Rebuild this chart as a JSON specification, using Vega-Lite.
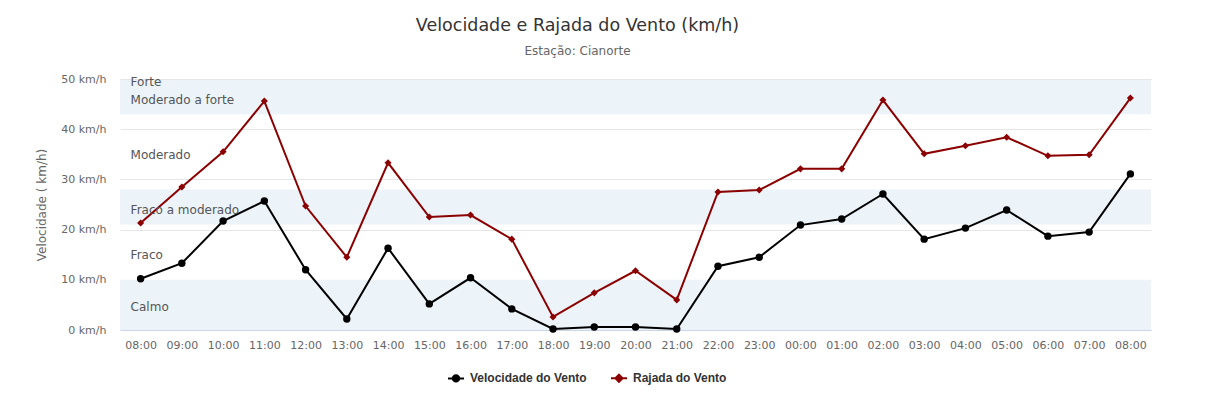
{
  "$schema": "https://vega.github.io/schema/vega-lite/v6.json",
  "width": 1031,
  "height": 251,
  "autosize": {"type": "none"},
  "padding": {"left": 120, "top": 79, "right": 67, "bottom": 66},
  "background": "#ffffff",
  "config": {
    "view": {"stroke": null},
    "font": "DejaVu Sans"
  },
  "title": {
    "text": "Velocidade e Rajada do Vento (km/h)",
    "subtitle": "Estação: Cianorte",
    "anchor": "middle",
    "dx": -58,
    "fontSize": 17.5,
    "fontWeight": "normal",
    "color": "#333333",
    "subtitleFontSize": 12,
    "subtitleColor": "#666666",
    "subtitlePadding": 12,
    "offset": 16
  },
  "datasets": {
    "bandas": [
      {"ini": 0, "fim": 10},
      {"ini": 21, "fim": 28},
      {"ini": 43, "fim": 49.8}
    ],
    "rotulos": [
      {"rotulo": "Forte", "v": 49.4},
      {"rotulo": "Moderado a forte", "v": 45.9},
      {"rotulo": "Moderado", "v": 34.9},
      {"rotulo": "Fraco a moderado", "v": 23.9},
      {"rotulo": "Fraco", "v": 14.9},
      {"rotulo": "Calmo", "v": 4.6}
    ],
    "vento": [
      {"hora": "08:00", "serie": "Velocidade do Vento", "valor": 10.2},
      {"hora": "09:00", "serie": "Velocidade do Vento", "valor": 13.3},
      {"hora": "10:00", "serie": "Velocidade do Vento", "valor": 21.7},
      {"hora": "11:00", "serie": "Velocidade do Vento", "valor": 25.7},
      {"hora": "12:00", "serie": "Velocidade do Vento", "valor": 12.0},
      {"hora": "13:00", "serie": "Velocidade do Vento", "valor": 2.2},
      {"hora": "14:00", "serie": "Velocidade do Vento", "valor": 16.3},
      {"hora": "15:00", "serie": "Velocidade do Vento", "valor": 5.2},
      {"hora": "16:00", "serie": "Velocidade do Vento", "valor": 10.4},
      {"hora": "17:00", "serie": "Velocidade do Vento", "valor": 4.2},
      {"hora": "18:00", "serie": "Velocidade do Vento", "valor": 0.2},
      {"hora": "19:00", "serie": "Velocidade do Vento", "valor": 0.6},
      {"hora": "20:00", "serie": "Velocidade do Vento", "valor": 0.6},
      {"hora": "21:00", "serie": "Velocidade do Vento", "valor": 0.2},
      {"hora": "22:00", "serie": "Velocidade do Vento", "valor": 12.7},
      {"hora": "23:00", "serie": "Velocidade do Vento", "valor": 14.5},
      {"hora": "00:00", "serie": "Velocidade do Vento", "valor": 20.9},
      {"hora": "01:00", "serie": "Velocidade do Vento", "valor": 22.1},
      {"hora": "02:00", "serie": "Velocidade do Vento", "valor": 27.1},
      {"hora": "03:00", "serie": "Velocidade do Vento", "valor": 18.1},
      {"hora": "04:00", "serie": "Velocidade do Vento", "valor": 20.3},
      {"hora": "05:00", "serie": "Velocidade do Vento", "valor": 23.9},
      {"hora": "06:00", "serie": "Velocidade do Vento", "valor": 18.7},
      {"hora": "07:00", "serie": "Velocidade do Vento", "valor": 19.5},
      {"hora": "08:00 (+1)", "serie": "Velocidade do Vento", "valor": 31.1},
      {"hora": "08:00", "serie": "Rajada do Vento", "valor": 21.3},
      {"hora": "09:00", "serie": "Rajada do Vento", "valor": 28.5},
      {"hora": "10:00", "serie": "Rajada do Vento", "valor": 35.5},
      {"hora": "11:00", "serie": "Rajada do Vento", "valor": 45.6},
      {"hora": "12:00", "serie": "Rajada do Vento", "valor": 24.7},
      {"hora": "13:00", "serie": "Rajada do Vento", "valor": 14.5},
      {"hora": "14:00", "serie": "Rajada do Vento", "valor": 33.3},
      {"hora": "15:00", "serie": "Rajada do Vento", "valor": 22.5},
      {"hora": "16:00", "serie": "Rajada do Vento", "valor": 22.9},
      {"hora": "17:00", "serie": "Rajada do Vento", "valor": 18.1},
      {"hora": "18:00", "serie": "Rajada do Vento", "valor": 2.6},
      {"hora": "19:00", "serie": "Rajada do Vento", "valor": 7.4},
      {"hora": "20:00", "serie": "Rajada do Vento", "valor": 11.8},
      {"hora": "21:00", "serie": "Rajada do Vento", "valor": 6.0},
      {"hora": "22:00", "serie": "Rajada do Vento", "valor": 27.5},
      {"hora": "23:00", "serie": "Rajada do Vento", "valor": 27.9},
      {"hora": "00:00", "serie": "Rajada do Vento", "valor": 32.1},
      {"hora": "01:00", "serie": "Rajada do Vento", "valor": 32.1},
      {"hora": "02:00", "serie": "Rajada do Vento", "valor": 45.8},
      {"hora": "03:00", "serie": "Rajada do Vento", "valor": 35.1},
      {"hora": "04:00", "serie": "Rajada do Vento", "valor": 36.7},
      {"hora": "05:00", "serie": "Rajada do Vento", "valor": 38.4},
      {"hora": "06:00", "serie": "Rajada do Vento", "valor": 34.7},
      {"hora": "07:00", "serie": "Rajada do Vento", "valor": 34.9},
      {"hora": "08:00 (+1)", "serie": "Rajada do Vento", "valor": 46.2}
    ]
  },
  "layer": [
    {
      "data": {"name": "bandas"},
      "mark": {"type": "rect", "color": "#ecf4fa"},
      "encoding": {
        "y": {"field": "ini", "type": "quantitative", "scale": {"domain": [0, 50]}},
        "y2": {"field": "fim"}
      }
    },
    {
      "data": {"name": "vento"},
      "mark": {"type": "line", "strokeWidth": 2},
      "encoding": {
        "x": {
          "field": "hora",
          "type": "ordinal",
          "sort": null,
          "scale": {"type": "point", "padding": 0.5},
          "axis": {
            "title": null,
            "labelAngle": 0,
            "labelExpr": "substring(datum.value, 0, 5)",
            "labelColor": "#666666",
            "labelFontSize": 11,
            "labelPadding": 9,
            "ticks": false,
            "domainColor": "#ccd6eb",
            "domainWidth": 1,
            "grid": false
          }
        },
        "y": {
          "field": "valor",
          "type": "quantitative",
          "scale": {"domain": [0, 50]},
          "axis": {
            "title": "Velocidade ( km/h)",
            "titleColor": "#666666",
            "titleFontSize": 12,
            "titleFontWeight": "normal",
            "titlePadding": 12,
            "values": [0, 10, 20, 30, 40, 50],
            "labelExpr": "datum.value + ' km/h'",
            "labelColor": "#666666",
            "labelFontSize": 11,
            "labelPadding": 14,
            "ticks": false,
            "domain": false,
            "grid": true,
            "gridColor": "#e6e6e6",
            "gridWidth": 1
          }
        },
        "color": {
          "field": "serie",
          "type": "nominal",
          "sort": ["Velocidade do Vento", "Rajada do Vento"],
          "scale": {"domain": ["Velocidade do Vento", "Rajada do Vento"], "range": ["#000000", "#8b0000"]},
          "legend": {
            "title": null,
            "orient": "none",
            "legendX": 327,
            "legendY": 290,
            "direction": "horizontal",
            "labelFont": "Liberation Sans",
            "labelFontSize": 12,
            "labelFontWeight": "bold",
            "labelColor": "#333333",
            "labelOffset": 5,
            "symbolSize": 256,
            "symbolStrokeWidth": 2,
            "symbolType": "M-1,0H1M-0.4,0A0.4,0.4 0 1,0 0.4,0A0.4,0.4 0 1,0 -0.4,0M-0.2,0A0.2,0.2 0 1,0 0.2,0A0.2,0.2 0 1,0 -0.2,0M-0.05,0A0.05,0.05 0 1,0 0.05,0A0.05,0.05 0 1,0 -0.05,0",
            "columnPadding": 20,
            "encode": {
              "symbols": {
                "update": {
                  "shape": {"signal": "datum.value == 'Rajada do Vento' ? 'M-1,0H1M0,-0.45L0.45,0L0,0.45L-0.45,0ZM0,-0.25L0.25,0L0,0.25L-0.25,0ZM0,-0.08L0.08,0L0,0.08L-0.08,0Z' : 'M-1,0H1M-0.4,0A0.4,0.4 0 1,0 0.4,0A0.4,0.4 0 1,0 -0.4,0M-0.2,0A0.2,0.2 0 1,0 0.2,0A0.2,0.2 0 1,0 -0.2,0M-0.05,0A0.05,0.05 0 1,0 0.05,0A0.05,0.05 0 1,0 -0.05,0'"}
                }
              }
            }
          }
        }
      }
    },
    {
      "data": {"name": "vento"},
      "transform": [{"filter": "datum.serie == 'Velocidade do Vento'"}],
      "mark": {"type": "point", "shape": "circle", "filled": true, "size": 55, "opacity": 1, "color": "#000000"},
      "encoding": {
        "x": {"field": "hora", "type": "ordinal", "sort": null},
        "y": {"field": "valor", "type": "quantitative"}
      }
    },
    {
      "data": {"name": "vento"},
      "transform": [{"filter": "datum.serie == 'Rajada do Vento'"}],
      "mark": {"type": "point", "shape": "diamond", "filled": true, "size": 50, "opacity": 1, "color": "#8b0000"},
      "encoding": {
        "x": {"field": "hora", "type": "ordinal", "sort": null},
        "y": {"field": "valor", "type": "quantitative"}
      }
    },
    {
      "data": {"name": "rotulos"},
      "mark": {"type": "text", "align": "left", "baseline": "middle", "dx": -10, "fontSize": 12, "color": "#555555"},
      "encoding": {
        "x": {"datum": "08:00"},
        "y": {"field": "v", "type": "quantitative"},
        "text": {"field": "rotulo"}
      }
    }
  ]
}
